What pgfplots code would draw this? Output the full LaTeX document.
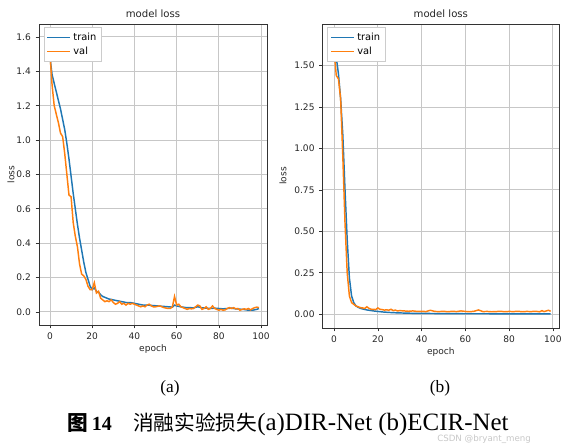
\documentclass[border=0pt]{standalone}
\usepackage{fontspec}
\usepackage{pgfplots}
\pgfplotsset{compat=1.18}
\setmainfont{Liberation Serif}
\newfontfamily\dejavu{DejaVu Sans}
\newfontfamily\cjk{Noto Sans CJK SC}
\definecolor{mplblue}{HTML}{1F77B4}
\definecolor{mplorange}{HTML}{FF7F0E}
\pgfplotsset{
  mystyle/.style={
    scale only axis,
    axis line style={black!80, line width=0.5pt},
    grid=major,
    major grid style={black!22, line width=0.7pt},
    tick align=outside,
    tick pos=left,
    major tick length=2.6pt,
    tick style={black!80, line width=0.5pt},
    xtick={0,20,...,100},
    xmin=-5.2, xmax=102.8,
    ticklabel style={font=\dejavu\fontsize{6.8}{7}\selectfont, text=black!85},
    /pgf/number format/assume math mode=true,
    xlabel={epoch}, ylabel={loss},
    xlabel shift=-3.5pt,
    label style={font=\dejavu\fontsize{6.8}{7}\selectfont, text=black!85},
    title={model loss},
    title style={font=\dejavu\fontsize{7.6}{8}\selectfont, text=black!85, yshift=-5pt},
    legend style={at={(0.02,0.99)}, anchor=north west, font=\dejavu\fontsize{7.4}{8}\selectfont,
      draw=black!20, fill=white, inner sep=2pt, row sep=-0.5pt},
    legend cell align=left,
  },
}
\begin{document}
\begin{tikzpicture}
\path[use as bounding box] (0,0) rectangle (569*0.75pt,-444*0.75pt);

% ---------- (a) ----------
\begin{axis}[mystyle,
  at={(39*0.75pt,-24*0.75pt)}, anchor=north west,
  width=228*0.75pt, height=301*0.75pt,
  ymin=-0.076, ymax=1.675,
  ytick={0,0.2,...,1.6},
  ylabel shift=-5.5pt,
  yticklabel style={/pgf/number format/.cd, fixed, fixed zerofill, precision=1},
]
\addlegendimage{line legend, draw=mplblue, line width=1.1pt}
\addlegendentry{train}
\addlegendimage{line legend, draw=mplorange, line width=1.1pt}
\addlegendentry{val}
\addplot[mplblue, line width=1.1pt, no marks, forget plot] coordinates {
(0,1.48)(1,1.38)(2,1.33)(3,1.28)(4,1.23)(5,1.18)(6,1.12)(7,1.06)(8,0.98)(9,0.89)
(10,0.79)(11,0.69)(12,0.60)(13,0.51)(14,0.43)(15,0.36)(16,0.29)(17,0.23)(18,0.19)(19,0.15)
(20,0.13)(21,0.14)(22,0.12)(23,0.115)(24,0.10)(25,0.09)(26,0.085)(27,0.08)(28,0.075)(29,0.073)
(30,0.07)(32,0.065)(34,0.06)(36,0.055)(38,0.055)(40,0.05)(42,0.045)(44,0.04)(46,0.04)(48,0.038)
(50,0.036)(52,0.034)(54,0.032)(56,0.03)(58,0.028)(59,0.04)(60,0.035)(62,0.03)(64,0.026)(66,0.025)
(68,0.024)(70,0.03)(72,0.024)(74,0.022)(76,0.02)(78,0.022)(80,0.02)(82,0.018)(84,0.02)(86,0.022)
(88,0.018)(90,0.016)(92,0.014)(94,0.01)(96,0.01)(98,0.015)(99,0.02)
};
\addplot[mplorange, line width=1.1pt, no marks, forget plot] coordinates {
(0,1.50)(1,1.32)(2,1.20)(3,1.15)(4,1.10)(5,1.04)(6,1.02)(7,0.92)(8,0.80)(9,0.68)
(10,0.67)(11,0.52)(12,0.44)(13,0.38)(14,0.28)(15,0.22)(16,0.21)(17,0.19)(18,0.15)(19,0.13)
(20,0.13)(21,0.17)(22,0.11)(23,0.12)(24,0.08)(25,0.07)(26,0.06)(27,0.065)(28,0.06)(29,0.07)
(30,0.055)(31,0.045)(32,0.05)(33,0.06)(34,0.045)(35,0.05)(36,0.04)(37,0.05)(38,0.045)(39,0.05)
(40,0.045)(41,0.04)(42,0.035)(43,0.03)(44,0.035)(45,0.03)(46,0.04)(47,0.045)(48,0.035)(49,0.03)
(50,0.03)(52,0.035)(54,0.025)(56,0.02)(57,0.02)(58,0.03)(59,0.09)(60,0.04)(61,0.045)(62,0.03)
(63,0.025)(64,0.02)(65,0.015)(66,0.02)(67,0.018)(68,0.02)(69,0.03)(70,0.04)(71,0.035)(72,0.015)
(73,0.02)(74,0.03)(75,0.015)(76,0.02)(77,0.035)(78,0.02)(79,0.015)(80,0.01)(81,0.015)(82,0.01)
(83,0.012)(84,0.02)(85,0.025)(86,0.02)(87,0.025)(88,0.018)(89,0.02)(90,0.01)(91,0.015)(92,0.018)
(93,0.015)(94,0.02)(95,0.012)(96,0.02)(97,0.025)(98,0.028)(99,0.025)
};
\end{axis}

% ---------- (b) ----------
\begin{axis}[mystyle,
  at={(322.7*0.75pt,-24*0.75pt)}, anchor=north west,
  width=236.3*0.75pt, height=304*0.75pt,
  ymin=-0.083, ymax=1.751,
  ytick={0,0.25,...,1.5},
  ylabel shift=-1pt,
  yticklabel style={/pgf/number format/.cd, fixed, fixed zerofill, precision=2},
]
\addlegendimage{line legend, draw=mplblue, line width=1.1pt}
\addlegendentry{train}
\addlegendimage{line legend, draw=mplorange, line width=1.1pt}
\addlegendentry{val}
\addplot[mplblue, line width=1.1pt, no marks, forget plot] coordinates {
(0,1.72)(1,1.55)(2,1.45)(3,1.30)(4,1.08)(5,0.75)(6,0.45)(7,0.22)(8,0.11)(9,0.07)
(10,0.05)(11,0.042)(12,0.036)(13,0.032)(14,0.029)(15,0.026)(16,0.024)(18,0.02)(20,0.017)(22,0.014)
(25,0.011)(28,0.009)(30,0.008)(35,0.006)(40,0.005)(50,0.004)(60,0.003)(70,0.003)(80,0.002)(90,0.002)(99,0.002)
};
\addplot[mplorange, line width=1.1pt, no marks, forget plot] coordinates {
(0,1.60)(1,1.44)(2,1.42)(3,1.30)(4,0.95)(5,0.55)(6,0.25)(7,0.11)(8,0.07)(9,0.06)
(10,0.05)(11,0.045)(12,0.04)(13,0.038)(14,0.035)(15,0.045)(16,0.035)(17,0.03)(18,0.03)(19,0.028)
(20,0.038)(21,0.03)(22,0.028)(23,0.025)(24,0.027)(25,0.024)(26,0.03)(27,0.022)(28,0.025)(29,0.02)
(30,0.022)(32,0.02)(34,0.018)(36,0.02)(38,0.017)(40,0.018)(42,0.016)(44,0.024)(46,0.017)(48,0.016)
(50,0.018)(52,0.015)(54,0.018)(56,0.016)(58,0.02)(60,0.017)(62,0.015)(64,0.018)(66,0.026)(68,0.016)
(70,0.017)(72,0.015)(74,0.016)(76,0.018)(78,0.015)(80,0.017)(82,0.016)(84,0.018)(86,0.015)(88,0.017)
(90,0.016)(92,0.018)(94,0.015)(95,0.022)(96,0.016)(97,0.02)(98,0.024)(99,0.018)
};
\end{axis}

% ---------- captions ----------
\node[anchor=base, inner sep=0] at (170*0.75pt,-392*0.75pt) {\fontsize{13}{14}\selectfont (a)};
\node[anchor=base, inner sep=0] at (440*0.75pt,-392*0.75pt) {\fontsize{13}{14}\selectfont (b)};
\node[anchor=base west, inner sep=0] at (67*0.75pt,-430*0.75pt)
  {{\cjk\bfseries\fontsize{15.5}{16}\selectfont 图}\hspace{3pt}{\bfseries\fontsize{15}{16}\selectfont 14}\hspace{16pt}{\cjk\fontsize{15.5}{16}\selectfont 消融实验损失}{\fontsize{18.7}{20}\selectfont (a)DIR-Net (b)ECIR-Net}};
\node[anchor=base west, inner sep=0, text=black!22] at (437*0.75pt,-441*0.75pt)
  {\dejavu\fontsize{6.5}{7}\selectfont CSDN @bryant\_meng};
\end{tikzpicture}
\end{document}
